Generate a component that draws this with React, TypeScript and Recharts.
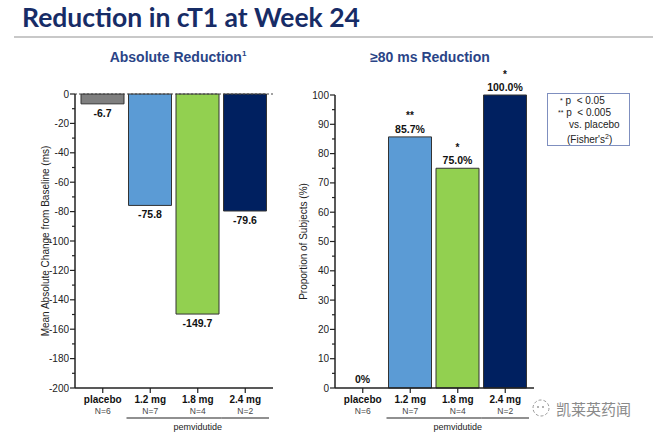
import React from "react";
import { BarChart, Bar, XAxis, YAxis, Cell, LabelList, ReferenceLine } from "recharts";

const categories = ["placebo", "1.2 mg", "1.8 mg", "2.4 mg"];
const subjects = ["N=6", "N=7", "N=4", "N=2"];
const absoluteChange = [-6.7, -75.8, -149.7, -79.6];
const responderPct = [0, 85.7, 75.0, 100.0];
const significance = ["", "**", "*", "*"];
const barColors = ["#7f7f7f", "#5b9bd5", "#92d050", "#002060"];
const absTicks = [0, -10, -20, -30, -40, -50, -60, -70, -80, -90, -100, -110, -120, -130, -140, -150, -160, -170, -180, -190, -200];
const pctTicks = [0, 5, 10, 15, 20, 25, 30, 35, 40, 45, 50, 55, 60, 65, 70, 75, 80, 85, 90, 95, 100];

const FONT = "'Liberation Sans', Arial, sans-serif";
const BAND = 47.5;

const absData = categories.map((c, i) => ({ name: c, n: subjects[i], value: absoluteChange[i] }));
const pctData = categories.map((c, i) => ({ name: c, n: subjects[i], value: responderPct[i], sig: significance[i] }));

const makeYTick = (step: number) => (props: any) => {
  const { x, y, payload } = props;
  const major = payload.value % step === 0;
  return (
    <g>
      <line x1={x - (major ? 5 : 3)} x2={x} y1={y} y2={y} stroke="#222" strokeWidth={1.2} />
      {major && (
        <text x={x - 6} y={y} textAnchor="end" dominantBaseline="central" fontSize={10} fill="#222">
          {payload.value}
        </text>
      )}
    </g>
  );
};

const XTick = (props: any) => {
  const { x, y, payload, index } = props;
  return (
    <g>
      <line x1={x} x2={x} y1={y} y2={y + 5} stroke="#222" strokeWidth={1.2} />
      <text x={x} y={y + 11} textAnchor="middle" dominantBaseline="central" fontSize={10} fontWeight="bold" fill="#111">
        {payload.value}
      </text>
      <text x={x} y={y + 23} textAnchor="middle" dominantBaseline="central" fontSize={8.5} fill="#444">
        {subjects[index]}
      </text>
      {index > 0 && (
        <line x1={x - BAND / 2} x2={x + BAND / 2} y1={y + 30} y2={y + 30} stroke="#222" strokeWidth={1.2} />
      )}
      {index === 2 && (
        <text x={x} y={y + 39} textAnchor="middle" dominantBaseline="central" fontSize={9} fill="#222">
          pemvidutide
        </text>
      )}
    </g>
  );
};

const AbsLabel = (props: any) => {
  const { x, y, width, height, value } = props;
  const bottom = Math.max(y, y + height);
  return (
    <text x={x + width / 2} y={bottom + 9} textAnchor="middle" dominantBaseline="central" fontSize={10.5} fontWeight="bold" fill="#111">
      {Number(value).toFixed(1)}
    </text>
  );
};

const PctLabel = (props: any) => {
  const { x, y, width, height, value } = props;
  const top = Math.min(y, y + height);
  return (
    <text x={x + width / 2} y={top - 8} textAnchor="middle" dominantBaseline="central" fontSize={10.5} fontWeight="bold" fill="#111">
      {Number(value) === 0 ? "0%" : Number(value).toFixed(1) + "%"}
    </text>
  );
};

const StarLabel = (props: any) => {
  const { x, y, width, height, value } = props;
  if (!value) return null;
  const top = Math.min(y, y + height);
  return (
    <text x={x + width / 2} y={top - 21} textAnchor="middle" dominantBaseline="central" fontSize={10} fontWeight="bold" fill="#111">
      {value}
    </text>
  );
};

export default function App() {
  return (
    <div style={{ position: "absolute", left: 0, top: 0, width: 653, height: 442, background: "#fff", fontFamily: FONT }}>
      <div style={{ position: "absolute", left: 22, top: 1, fontFamily: "Lato, sans-serif", fontWeight: 700, fontSize: 26.5, color: "#172c66", whiteSpace: "nowrap" }}>
        Reduction in cT1 at Week 24
      </div>
      <div style={{ position: "absolute", left: 14, right: 0, top: 36, height: 2, background: "#c8c8c8" }} />
      <div style={{ position: "absolute", left: 0, width: 356, top: 49, textAlign: "center", fontWeight: 700, fontSize: 14, color: "#2a4487" }}>
        Absolute Reduction<sup style={{ fontSize: 8 }}>1</sup>
      </div>
      <div style={{ position: "absolute", left: 332, width: 196, top: 49, textAlign: "center", fontWeight: 700, fontSize: 14, color: "#2a4487" }}>
        ≥80 ms Reduction
      </div>

      <div style={{ position: "absolute", left: 0, top: 0 }}>
        <BarChart width={290} height={442} data={absData} margin={{ top: 94, right: 17, left: 35, bottom: 14 }} style={{ fontFamily: FONT }}>
          <XAxis dataKey="name" height={40} tickSize={0} tickMargin={0} interval={0} tick={<XTick />} padding={{ left: 4, right: 4 }} axisLine={{ stroke: "#222", strokeWidth: 1.5 }} />
          <YAxis
            width={40}
            domain={[-200, 0]}
            ticks={absTicks}
            interval={0}
            tickSize={0}
            tickMargin={0}
            tick={makeYTick(20)}
            axisLine={{ stroke: "#222", strokeWidth: 1.5 }}
            label={{ value: "Mean Absolute Change from Baseline (ms)", angle: -90, position: "insideLeft", offset: 10, style: { textAnchor: "middle", fontSize: 10, fill: "#222" } }}
          />
          <ReferenceLine y={0} stroke="#444" strokeDasharray="2 2" strokeWidth={1} />
          <Bar dataKey="value" barSize={43} stroke="#333" strokeWidth={1} isAnimationActive={false}>
            {absData.map((d, i) => (
              <Cell key={d.name} fill={barColors[i]} />
            ))}
            <LabelList dataKey="value" content={<AbsLabel />} />
          </Bar>
        </BarChart>
      </div>

      <div style={{ position: "absolute", left: 280, top: 0 }}>
        <BarChart width={290} height={442} data={pctData} margin={{ top: 95, right: 36, left: 15, bottom: 14 }} style={{ fontFamily: FONT }}>
          <XAxis dataKey="name" height={40} tickSize={0} tickMargin={0} interval={0} tick={<XTick />} padding={{ left: 4, right: 5 }} axisLine={{ stroke: "#222", strokeWidth: 1.5 }} />
          <YAxis
            width={40}
            domain={[0, 100]}
            ticks={pctTicks}
            interval={0}
            tickSize={0}
            tickMargin={0}
            tick={makeYTick(10)}
            axisLine={{ stroke: "#222", strokeWidth: 1.5 }}
            label={{ value: "Proportion of Subjects (%)", angle: -90, position: "insideLeft", offset: 8, style: { textAnchor: "middle", fontSize: 10, fill: "#222" } }}
          />
          <Bar dataKey="value" barSize={43} minPointSize={1} strokeWidth={1} isAnimationActive={false}>
            {pctData.map((d, i) => (
              <Cell key={d.name} fill={d.value === 0 ? "none" : barColors[i]} stroke={d.value === 0 ? "none" : "#333"} />
            ))}
            <LabelList dataKey="value" content={<PctLabel />} />
            <LabelList dataKey="sig" content={<StarLabel />} />
          </Bar>
        </BarChart>
      </div>

      <div style={{ position: "absolute", left: 547, top: 93, width: 81, height: 50, border: "1px solid #7f8fbf", fontSize: 10, color: "#222", lineHeight: "12px", paddingTop: 1 }}>
        <div style={{ paddingLeft: 12 }}><span style={{ fontSize: 7, verticalAlign: "top" }}>*</span> p&nbsp; &lt; 0.05</div>
        <div style={{ paddingLeft: 10 }}><span style={{ fontSize: 7, verticalAlign: "top" }}>**</span> p&nbsp; &lt; 0.005</div>
        <div style={{ paddingLeft: 21 }}>vs. placebo</div>
        <div style={{ paddingLeft: 19 }}>(Fisher's<sup style={{ fontSize: 7 }}>2</sup>)</div>
      </div>

      <svg style={{ position: "absolute", left: 530, top: 397 }} width={22} height={22}>
        <circle cx={11} cy={11} r={8} fill="none" stroke="#9a9a9a" strokeWidth={1} strokeDasharray="3 2" />
        <circle cx={8} cy={10} r={1} fill="#9a9a9a" />
        <circle cx={13} cy={10} r={1} fill="#9a9a9a" />
      </svg>
      <div style={{ position: "absolute", left: 556, top: 398, fontSize: 15, color: "#8a8a8a", fontFamily: "'Noto Sans CJK SC', sans-serif", whiteSpace: "nowrap" }}>
        凯莱英药闻
      </div>
    </div>
  );
}
